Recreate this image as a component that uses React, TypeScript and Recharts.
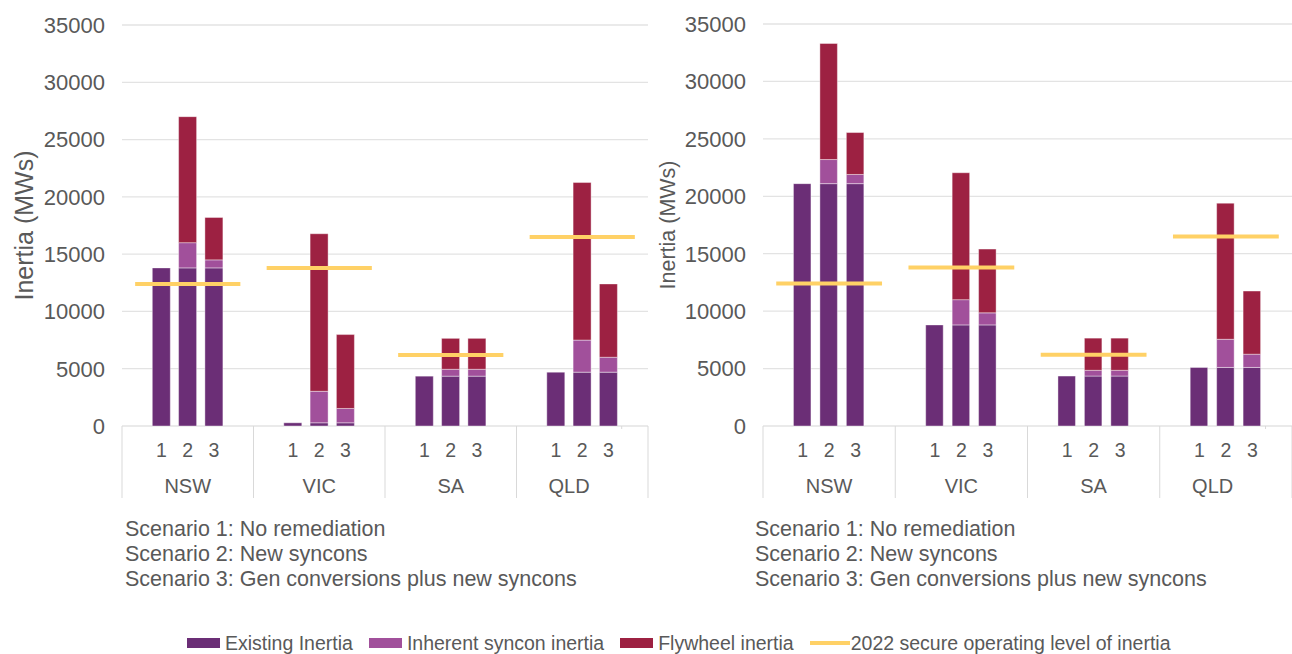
import React from 'react';
import { ComposedChart, Bar, Line, XAxis, YAxis, CartesianGrid } from 'recharts';

const regions = ['NSW', 'VIC', 'SA', 'QLD'];
const slotLabels = ['', '1', '2', '3', ''];
const yTicks = [0, 5000, 10000, 15000, 20000, 25000, 30000, 35000];
const secureLevel = [12400, 13800, 6200, 16500];

// left panel: NSW1..3, VIC1..3, SA1..3, QLD1..3
const leftExisting = [13800, 13800, 13800, 280, 280, 280, 4350, 4350, 4350, 4700, 4700, 4700];
const leftInherent = [0, 2200, 700, 0, 2750, 1250, 0, 600, 600, 0, 2800, 1300];
const leftFlywheel = [0, 11000, 3700, 0, 13750, 6450, 0, 2700, 2700, 0, 13750, 6400];

// right panel
const rightExisting = [21100, 21100, 21100, 8800, 8800, 8800, 4350, 4350, 4350, 5100, 5100, 5100];
const rightInherent = [0, 2100, 800, 0, 2200, 1050, 0, 500, 500, 0, 2450, 1150];
const rightFlywheel = [0, 10100, 3650, 0, 11050, 5550, 0, 2800, 2800, 0, 11850, 5500];

const scenarioNotes = [
  'Scenario 1: No remediation',
  'Scenario 2: New syncons',
  'Scenario 3: Gen conversions plus new syncons',
];

const COLORS = {
  existing: '#6B2E76',
  inherent: '#A1509B',
  flywheel: '#9D2142',
  level: '#FFD166',
  text: '#595959',
  grid: '#E3E3E3',
  divider: '#D9D9D9',
};

const FONT = "'Liberation Sans', Arial, sans-serif";

function buildRows(existing: number[], inherent: number[], flywheel: number[]) {
  const rows: any[] = [];
  regions.forEach((r, g) => {
    slotLabels.forEach((s, k) => {
      const row: any = { key: `${r}-${k}`, region: r, scenario: s };
      if (k >= 1 && k <= 3) {
        const i = g * 3 + (k - 1);
        row.existing = existing[i] || null;
        row.inherent = inherent[i] || null;
        row.flywheel = flywheel[i] || null;
      }
      regions.forEach((r2, g2) => {
        row[`level_${r2}`] = g2 === g ? secureLevel[g] : null;
      });
      rows.push(row);
    });
  });
  return rows;
}

const leftRows = buildRows(leftExisting, leftInherent, leftFlywheel);
const rightRows = buildRows(rightExisting, rightInherent, rightFlywheel);

const makeTick = (bw: number) => (props: any) => {
  const { x, y, payload } = props;
  const index = props.index ?? payload.index;
  const slot = index % 5;
  const g = Math.floor(index / 5);
  const last = g === regions.length - 1;
  return (
    <g>
      {slotLabels[slot] && (
        <text x={x} y={y + 24} textAnchor="middle" dominantBaseline="central" fontSize={19.5} fill={COLORS.text} fontFamily={FONT}>
          {slotLabels[slot]}
        </text>
      )}
      {slot === 2 && (
        <text x={last ? x - bw / 2 : x} y={y + 60} textAnchor="middle" dominantBaseline="central" fontSize={20} fill={COLORS.text} fontFamily={FONT}>
          {regions[g]}
        </text>
      )}
      {slot === 0 && <line x1={x - bw / 2} x2={x - bw / 2} y1={y} y2={y + 72} stroke={COLORS.divider} strokeWidth={1} />}
      {slot === 4 && last && <line x1={x - bw / 2} x2={x - bw / 2} y1={y} y2={y + 3} stroke={COLORS.divider} strokeWidth={1} />}
      {slot === 4 && last && <line x1={x + bw / 2} x2={x + bw / 2} y1={y} y2={y + 72} stroke={COLORS.divider} strokeWidth={1} />}
    </g>
  );
};

type PanelProps = {
  rows: any[];
  left: number;
  width: number;
  yAxisWidth: number;
  marginRight: number;
  marginTop: number;
  tickMargin: number;
  barSize: number;
  labelX: number;
  labelSize: number;
};

function Panel(p: PanelProps) {
  const plotW = p.width - p.yAxisWidth - p.marginRight;
  const bw = plotW / p.rows.length;
  return (
    <div style={{ position: 'absolute', left: p.left, top: 0 }}>
      <ComposedChart
        width={p.width}
        height={500}
        data={p.rows}
        margin={{ top: p.marginTop, right: p.marginRight, bottom: 2, left: 0 }}
        barCategoryGap={0}
      >
        <CartesianGrid vertical={false} stroke={COLORS.grid} strokeWidth={1.3} />
        <XAxis
          dataKey="key"
          interval={0}
          tickLine={false}
          axisLine={false}
          tickSize={0}
          tickMargin={0}
          height={72}
          tick={makeTick(bw)}
        />
        <YAxis
          width={p.yAxisWidth}
          domain={[0, 35000]}
          ticks={yTicks}
          interval={0}
          tickLine={false}
          axisLine={false}
          tickMargin={p.tickMargin}
          tick={{ fill: COLORS.text, fontSize: 22, fontFamily: FONT }}
          label={{
            content: (lp: any) => {
              const vb = lp.viewBox || {};
              const cy = (vb.y ?? p.marginTop) + (vb.height ?? 400) / 2;
              return (
                <text
                  x={p.labelX}
                  y={cy}
                  transform={`rotate(-90, ${p.labelX}, ${cy})`}
                  textAnchor="middle"
                  fontSize={p.labelSize}
                  fill={COLORS.text}
                  fontFamily={FONT}
                >
                  Inertia (MWs)
                </text>
              );
            },
          }}
        />
        <Bar dataKey="existing" stackId="s" fill={COLORS.existing} barSize={p.barSize} stroke="#ffffff" strokeOpacity={0.5} strokeWidth={0.8} isAnimationActive={false} />
        <Bar dataKey="inherent" stackId="s" fill={COLORS.inherent} barSize={p.barSize} stroke="#ffffff" strokeOpacity={0.5} strokeWidth={0.8} isAnimationActive={false} />
        <Bar dataKey="flywheel" stackId="s" fill={COLORS.flywheel} barSize={p.barSize} stroke="#ffffff" strokeOpacity={0.5} strokeWidth={0.8} isAnimationActive={false} />
        {regions.map((r) => (
          <Line
            key={r}
            dataKey={`level_${r}`}
            stroke={COLORS.level}
            strokeWidth={4}
            dot={false}
            activeDot={false}
            connectNulls={false}
            legendType="none"
            isAnimationActive={false}
          />
        ))}
      </ComposedChart>
    </div>
  );
}

function Notes({ left }: { left: number }) {
  return (
    <div style={{ position: 'absolute', left, top: 517, fontSize: 21.5, lineHeight: '25px', color: COLORS.text, fontFamily: FONT, whiteSpace: 'nowrap' }}>
      {scenarioNotes.map((n) => (
        <div key={n}>{n}</div>
      ))}
    </div>
  );
}

const legendItems = [
  { label: 'Existing Inertia', color: COLORS.existing, kind: 'box' },
  { label: 'Inherent syncon inertia', color: COLORS.inherent, kind: 'box' },
  { label: 'Flywheel inertia', color: COLORS.flywheel, kind: 'box' },
  { label: '2022 secure operating level of inertia', color: COLORS.level, kind: 'line' },
];

function Legend() {
  return (
    <div style={{ position: 'absolute', left: 187, top: 630, height: 26, display: 'flex', alignItems: 'center', fontFamily: FONT, fontSize: 19.5, color: COLORS.text, whiteSpace: 'nowrap' }}>
      {legendItems.map((it, i) => (
        <div key={it.label} style={{ display: 'flex', alignItems: 'center', marginRight: i < legendItems.length - 1 ? 16 : 0 }}>
          {it.kind === 'box' ? (
            <div style={{ width: 33, height: 10, background: it.color, marginRight: 5 }} />
          ) : (
            <div style={{ width: 40, height: 4, background: it.color, marginRight: 1 }} />
          )}
          <span>{it.label}</span>
        </div>
      ))}
    </div>
  );
}

export default function App() {
  return (
    <div style={{ position: 'absolute', left: 0, top: 0, width: 1292, height: 654, background: '#ffffff', fontFamily: FONT, overflow: 'hidden' }}>
      <Panel rows={leftRows} left={0} width={650} yAxisWidth={122} marginRight={2} marginTop={25} tickMargin={11} barSize={18} labelX={33} labelSize={25} />
      <Panel rows={rightRows} left={640} width={652} yAxisWidth={123} marginRight={0} marginTop={24} tickMargin={11} barSize={17.5} labelX={35} labelSize={21.5} />
      <Notes left={125} />
      <Notes left={755} />
      <Legend />
    </div>
  );
}
